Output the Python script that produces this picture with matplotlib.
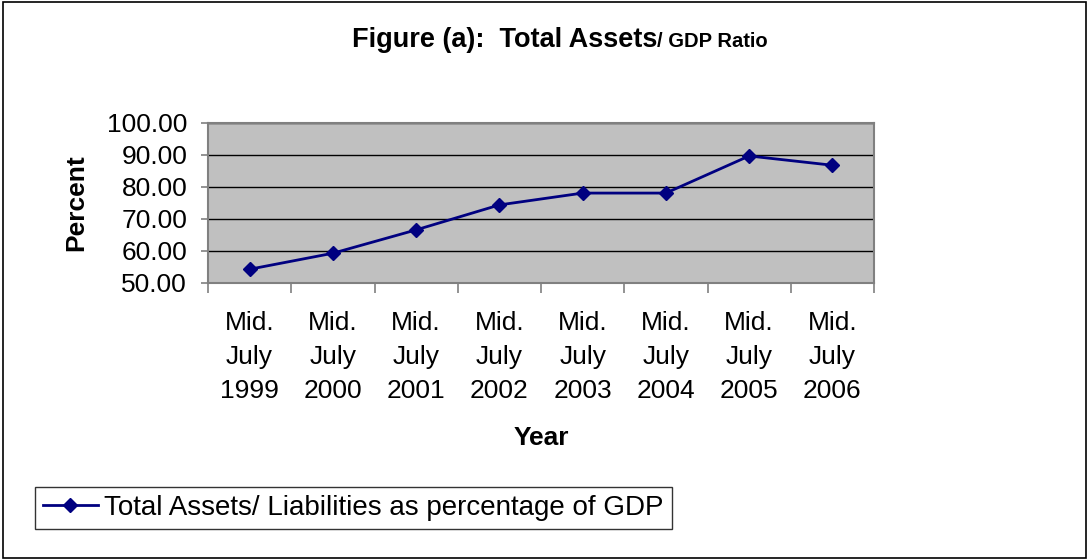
import matplotlib.pyplot as plt
from matplotlib.patches import Rectangle

plt.rcParams['font.family'] = ['Liberation Sans', 'DejaVu Sans']

years = ['Mid.\nJuly\n1999', 'Mid.\nJuly\n2000', 'Mid.\nJuly\n2001', 'Mid.\nJuly\n2002',
         'Mid.\nJuly\n2003', 'Mid.\nJuly\n2004', 'Mid.\nJuly\n2005', 'Mid.\nJuly\n2006']
ratio = [54.3, 59.3, 66.6, 74.4, 78.1, 78.1, 89.7, 86.8]
y_ticks = [50, 60, 70, 80, 90, 100]

fig = plt.figure(figsize=(10.89, 5.6), dpi=100)
ax = fig.add_axes([208 / 1089, 1 - 283 / 560, (874 - 208) / 1089, 160 / 560])

x = range(len(years))
ax.plot(x, ratio, color='#000080', marker='D', markersize=7.5, linewidth=2,
        label='Total Assets/ Liabilities as percentage of GDP')

ax.set_facecolor('#c0c0c0')
ax.set_xlim(-0.5, len(years) - 0.5)
ax.set_ylim(50, 100)
ax.set_yticks(y_ticks)
ax.set_yticklabels(['%.2f' % v for v in y_ticks], fontsize=19)
ax.yaxis.grid(True, color='black', linewidth=1)
ax.set_axisbelow(True)

# category boundaries as major ticks, labels at centres
ax.set_xticks([i - 0.5 for i in range(len(years) + 1)])
ax.set_xticklabels([])
ax.set_xticks(list(x), minor=True)
ax.set_xticklabels(years, minor=True, fontsize=19, linespacing=1.52)
ax.tick_params(axis='x', which='major', length=7, color='#808080', width=1.2)
ax.tick_params(axis='x', which='minor', length=0, pad=20)
ax.tick_params(axis='y', length=5, color='#808080', width=1.2, pad=10)
for s in ax.spines.values():
    s.set_color('#808080')
    s.set_linewidth(1.5)

ax.set_ylabel('Percent', fontsize=19, fontweight='bold', labelpad=13)
fig.text(541 / 1089, 1 - 438 / 560, 'Year', fontsize=19, fontweight='bold',
         ha='center', va='center')

fig.text(657 / 1089, 1 - 47 / 560, 'Figure (a):  Total Assets', fontsize=19.5,
         fontweight='bold', ha='right', va='baseline')
fig.text(657 / 1089, 1 - 47 / 560, '/ GDP Ratio', fontsize=14.5,
         fontweight='bold', ha='left', va='baseline')

leg = fig.legend(loc='center left', bbox_to_anchor=(35 / 1089, 1 - 508 / 560),
                 fontsize=20, frameon=True, fancybox=False, handlelength=1.95,
                 handletextpad=0.25, borderpad=0.3, borderaxespad=0)
leg.get_frame().set_edgecolor('black')
leg.get_frame().set_linewidth(1)

fig.patches.append(Rectangle((0.003, 0.004), 0.994, 0.992, transform=fig.transFigure,
                             fill=False, edgecolor='black', linewidth=1.2))

fig.savefig('out.png', dpi=100)
